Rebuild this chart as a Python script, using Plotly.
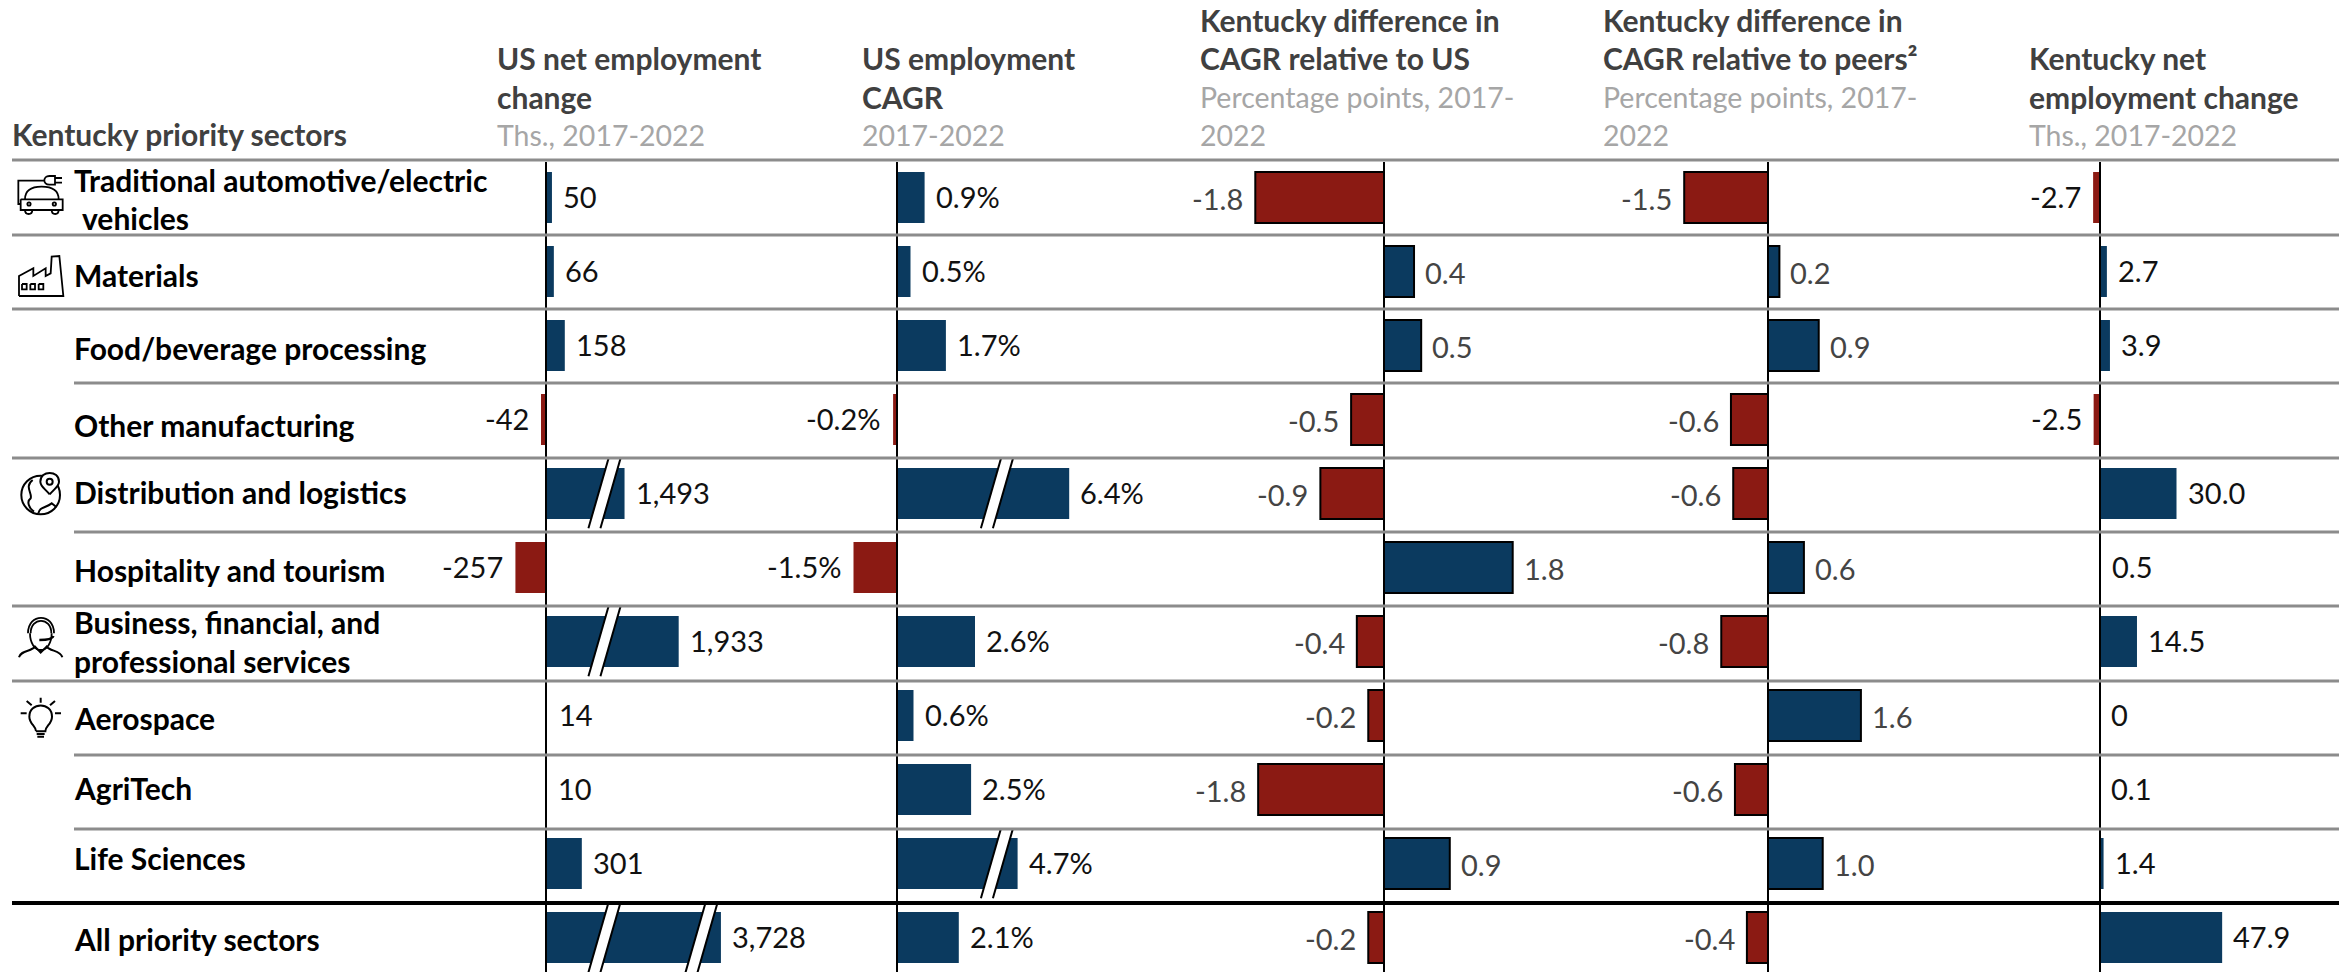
import plotly.graph_objects as go

W, H = 2351, 972
FONT = "Lato"
NAVY, RED = "#0B3A5F", "#8B1A13"

# ---- data ----
sectors = ["Traditional automotive/electric vehicles", "Materials", "Food/beverage processing",
           "Other manufacturing", "Distribution and logistics", "Hospitality and tourism",
           "Business, financial, and professional services", "Aerospace", "AgriTech",
           "Life Sciences", "All priority sectors"]

us_net_labels = ["50", "66", "158", "-42", "1,493", "-257", "1,933", "14", "10", "301", "3,728"]
# bar lengths as drawn (long bars are truncated in the source, marked with axis breaks)
us_net_bars = [50, 66, 158, -42, 660, -257, 1115, 14, 10, 301, 1470]

us_cagr_labels = ["0.9%", "0.5%", "1.7%", "-0.2%", "6.4%", "-1.5%", "2.6%", "0.6%", "2.5%", "4.7%", "2.1%"]
us_cagr_bars = [0.92, 0.45, 1.63, -0.13, 5.74, -1.45, 2.6, 0.55, 2.47, 4.02, 2.06]

diff_us_labels = ["-1.8", "0.4", "0.5", "-0.5", "-0.9", "1.8", "-0.4", "-0.2", "-1.8", "0.9", "-0.2"]
diff_us_bars = [-1.8, 0.42, 0.52, -0.46, -0.89, 1.8, -0.38, -0.22, -1.76, 0.92, -0.22]

diff_peer_labels = ["-1.5", "0.2", "0.9", "-0.6", "-0.6", "0.6", "-0.8", "1.6", "-0.6", "1.0", "-0.4"]
diff_peer_bars = [-1.47, 0.2, 0.89, -0.65, -0.61, 0.63, -0.82, 1.63, -0.58, 0.96, -0.37]

ky_net_labels = ["-2.7", "2.7", "3.9", "-2.5", "30.0", "0.5", "14.5", "0", "0.1", "1.4", "47.9"]
ky_net_bars = [-2.7, 2.7, 3.9, -2.5, 30.0, 0.5, 14.5, 0, 0.1, 1.4, 47.9]

# (row, break position in bar units)
us_net_breaks = [(4, 491), (6, 491), (10, 491), (10, 1307)]
us_cagr_breaks = [(4, 3.33), (9, 3.33)]

# ---- layout constants (pixels) ----
panels = [
    dict(labels=us_net_labels, bars=us_net_bars, zero=546, scale=0.119, outline=False, color="#111111", down=-1),
    dict(labels=us_cagr_labels, bars=us_cagr_bars, zero=897, scale=30, outline=False, color="#111111", down=-1),
    dict(labels=diff_us_labels, bars=diff_us_bars, zero=1384, scale=71.5, outline=True, color="#444444", down=1),
    dict(labels=diff_peer_labels, bars=diff_peer_bars, zero=1768, scale=57, outline=True, color="#444444", down=1),
    dict(labels=ky_net_labels, bars=ky_net_bars, zero=2100, scale=2.55, outline=False, color="#111111", down=-1),
]
ROW0, ROWH = 197.5, 74.0
rows = list(range(len(sectors)))
rules = [(160, 12), (235, 12), (309, 12), (383, 74), (458, 12), (532, 74), (606, 12), (681, 12), (755, 74), (829, 74)]

row_text = [("Traditional automotive/electric", 74, 182), ("vehicles", 82, 220), ("Materials", 74, 276),
            ("Food/beverage processing", 74, 349), ("Other manufacturing", 74, 426),
            ("Distribution and logistics", 74, 493), ("Hospitality and tourism", 74, 571),
            ("Business, financial, and", 74, 623), ("professional services", 74, 662), ("Aerospace", 74, 719),
            ("AgriTech", 74, 789), ("Life Sciences", 74, 859), ("All priority sectors", 74, 940)]
head_bold = [("Kentucky priority sectors", 12, 135), ("US net employment", 497, 58), ("change", 497, 97),
             ("US employment", 862, 58), ("CAGR", 862, 97),
             ("Kentucky difference in", 1200, 20), ("CAGR relative to US", 1200, 58),
             ("Kentucky difference in", 1603, 20), ("CAGR relative to peers²", 1603, 58),
             ("Kentucky net", 2029, 58), ("employment change", 2029, 97)]
head_sub = [("Ths., 2017-2022", 497, 135), ("2017-2022", 862, 135),
            ("Percentage points, 2017-", 1200, 97), ("2022", 1200, 135),
            ("Percentage points, 2017-", 1603, 97), ("2022", 1603, 135),
            ("Ths., 2017-2022", 2029, 135)]

fig = go.Figure()
annotations, shapes = [], []
layout_axes = {}


def ax(i):
    return "x" if i == 0 else f"x{i + 1}"


def bar_color(v, scale):
    # bars under 2 px disappear behind the axis line in the source
    if abs(v * scale) < 2:
        return "rgba(0,0,0,0)"
    return NAVY if v >= 0 else RED


for i, p in enumerate(panels):
    fig.add_trace(go.Bar(
        x=p["bars"], y=rows, orientation="h", xaxis=ax(i), yaxis="y", width=0.689,
        marker=dict(color=[bar_color(v, p["scale"]) for v in p["bars"]],
                    line=dict(color="#000000" if p["outline"] else "rgba(0,0,0,0)", width=2 if p["outline"] else 0)),
        hoverinfo="skip", showlegend=False))
    layout_axes["xaxis" if i == 0 else f"xaxis{i + 1}"] = dict(
        domain=[0, 1], anchor="y", visible=False, fixedrange=True,
        range=[-p["zero"] / p["scale"], (W - p["zero"]) / p["scale"]])
    for v, t, r in zip(p["bars"], p["labels"], rows):
        neg = v < 0
        annotations.append(dict(x=v, y=r, xref=ax(i), yref="y", text=t, showarrow=False,
                                xanchor="right" if neg else "left", yanchor="middle",
                                xshift=-10 if neg else 9, yshift=-p["down"],
                                font=dict(family=FONT, size=29, color=p["color"])))


def X(px):
    return px / W


def Y(py):
    return 1 - py / H


for t, x, y in row_text:
    annotations.append(dict(x=X(x - 2), y=Y(y - 1.5), xref="paper", yref="paper", text=t, showarrow=False,
                            xanchor="left", yanchor="middle",
                            font=dict(family=FONT, size=30, color="#000000", weight=700)))
for t, x, y in head_bold:
    annotations.append(dict(x=X(x - 2), y=Y(y - (1.5 if x == 12 else 0)), xref="paper", yref="paper", text=t,
                            showarrow=False, xanchor="left", yanchor="middle",
                            font=dict(family=FONT, size=30, color="#404040", weight=700)))
for t, x, y in head_sub:
    annotations.append(dict(x=X(x - 2), y=Y(y), xref="paper", yref="paper", text=t, showarrow=False, xanchor="left",
                            yanchor="middle", font=dict(family=FONT, size=28.5, color="#A6A6A6")))

# axis lines
for i, p in enumerate(panels):
    shapes.append(dict(type="line", xref=ax(i), yref="paper", x0=0, x1=0, y0=0, y1=Y(162),
                       line=dict(color="#000000", width=2)))


# axis-break marks
def add_break(i, row, b):
    p = panels[i]
    slant = 10 / p["scale"]
    half = 6 / p["scale"]
    y0, y1 = row - 0.5 + 0.03, row + 0.5 - 0.03
    shapes.append(dict(type="path", xref=ax(i), yref="y", fillcolor="#FFFFFF", line=dict(width=0),
                       path=f"M{b - half - slant},{y1} L{b - half + slant},{y0} L{b + half + slant},{y0} L{b + half - slant},{y1} Z"))
    for s in (-half, half):
        shapes.append(dict(type="line", xref=ax(i), yref="y", x0=b + s - slant, x1=b + s + slant, y0=y1, y1=y0,
                           line=dict(color="#000000", width=2)))


for r, b in us_net_breaks:
    add_break(0, r, b)
for r, b in us_cagr_breaks:
    add_break(1, r, b)

# horizontal rules
for y, x0 in rules:
    shapes.append(dict(type="line", xref="paper", yref="paper", x0=X(x0), x1=X(2339), y0=Y(y), y1=Y(y),
                       line=dict(color="#8C8C8C", width=3)))
shapes.append(dict(type="line", xref="paper", yref="paper", x0=X(12), x1=X(2339), y0=Y(903), y1=Y(903),
                   line=dict(color="#000000", width=4)))


# ---- icons: hand-drawn outlines ----
def icon(ox, oy, cmds, width=1.8, fill="rgba(0,0,0,0)"):
    """cmds: list of (op, x, y, ...) in 3x-crop coordinates relative to (ox, oy)."""
    out = []
    for c in cmds:
        op, vals = c[0], c[1:]
        pts = [f"{X(ox + vals[k] / 3):.5f},{Y(oy + vals[k + 1] / 3):.5f}" for k in range(0, len(vals), 2)]
        out.append(op + " ".join(pts))
    shapes.append(dict(type="path", xref="paper", yref="paper", path=" ".join(out),
                       line=dict(color="#000000", width=width), fillcolor=fill))


def circle(cx, cy, rx, ry=None):
    ry = ry or rx
    k = 0.5523
    return [("M", cx - rx, cy), ("C", cx - rx, cy - k * ry, cx - k * rx, cy - ry, cx, cy - ry),
            ("C", cx + k * rx, cy - ry, cx + rx, cy - k * ry, cx + rx, cy),
            ("C", cx + rx, cy + k * ry, cx + k * rx, cy + ry, cx, cy + ry),
            ("C", cx - k * rx, cy + ry, cx - rx, cy + k * ry, cx - rx, cy)]


# car and plug
o = (0, 160)
icon(*o, [("M", 135, 62), ("L", 55, 62), ("L", 55, 132), ("L", 62, 132)])
icon(*o, [("M", 148, 48), ("C", 128, 48, 128, 74, 148, 74), ("L", 165, 74), ("L", 165, 48), ("L", 148, 48),
          ("M", 165, 54), ("L", 186, 54), ("M", 165, 68), ("L", 186, 68)])
icon(*o, [("M", 62, 118), ("L", 188, 118), ("L", 188, 150), ("L", 62, 150), ("L", 62, 118),
          ("M", 75, 118), ("C", 75, 88, 100, 80, 125, 80), ("C", 150, 80, 176, 88, 176, 118),
          ("M", 75, 150), ("C", 75, 166, 97, 166, 97, 150), ("M", 155, 150), ("C", 155, 166, 176, 166, 176, 150)])
icon(*o, circle(87, 132, 5))
icon(*o, circle(163, 132, 5))
# factory
icon(*o, [("M", 57, 408), ("L", 57, 348), ("L", 100, 325), ("L", 100, 348), ("L", 137, 325), ("L", 137, 348),
          ("L", 152, 340), ("L", 155, 290), ("L", 178, 288), ("L", 190, 408), ("L", 57, 408)])
for wx in (66, 91, 116):
    icon(*o, [("M", wx, 372), ("L", wx + 14, 372), ("L", wx + 14, 388), ("L", wx, 388), ("L", wx, 372)])
# globe and pin
o = (0, 460)
icon(*o, circle(122, 105, 58), width=2)
icon(*o, [("M", 98, 60), ("C", 72, 80, 98, 100, 92, 115), ("C", 78, 125, 88, 145, 102, 155),
          ("M", 115, 160), ("C", 120, 140, 135, 145, 155, 130), ("L", 170, 142)], width=2)
icon(*o, [("M", 149, 103), ("C", 130, 82, 121, 78, 121, 65), ("C", 121, 30, 177, 30, 177, 65),
          ("C", 177, 78, 168, 82, 149, 103)], width=2, fill="#FFFFFF")
icon(*o, circle(149, 65, 9), width=2)
# person with headset
o = (0, 600)
icon(*o, [("M", 90, 100), ("C", 90, 130, 105, 150, 122, 150), ("C", 140, 150, 155, 130, 155, 100)])
icon(*o, [("M", 84, 100), ("C", 84, 38, 162, 38, 162, 100), ("M", 92, 100), ("C", 92, 50, 154, 50, 154, 100)])
icon(*o, [("M", 160, 108), ("C", 158, 118, 140, 120, 118, 120)], width=2.5)
icon(*o, [("M", 57, 172), ("C", 62, 150, 95, 155, 105, 140), ("L", 122, 158), ("L", 140, 140),
          ("C", 150, 155, 182, 150, 187, 172)], width=2)
# light bulb
icon(*o, [("M", 108, 394), ("C", 108, 378, 88, 372, 88, 350), ("C", 88, 305, 156, 305, 156, 350),
          ("C", 156, 372, 136, 378, 136, 394), ("L", 108, 394),
          ("M", 110, 402), ("L", 134, 402), ("M", 112, 410), ("L", 132, 410),
          ("M", 122, 293), ("L", 122, 308), ("M", 80, 303), ("L", 95, 316), ("M", 165, 303), ("L", 150, 316),
          ("M", 62, 340), ("L", 80, 340), ("M", 165, 340), ("L", 183, 340)], width=2)

fig.update_layout(
    width=W, height=H, margin=dict(l=0, r=0, t=0, b=0), paper_bgcolor="#FFFFFF", plot_bgcolor="rgba(0,0,0,0)",
    barmode="overlay", showlegend=False, annotations=annotations, shapes=shapes,
    yaxis=dict(domain=[0, 1], visible=False, fixedrange=True,
               range=[(H - ROW0) / ROWH, -ROW0 / ROWH]),
    **layout_axes)

fig.write_html("out.html", post_script="document.body.style.margin='0';document.body.style.overflow='hidden';",
               config=dict(displayModeBar=False))
